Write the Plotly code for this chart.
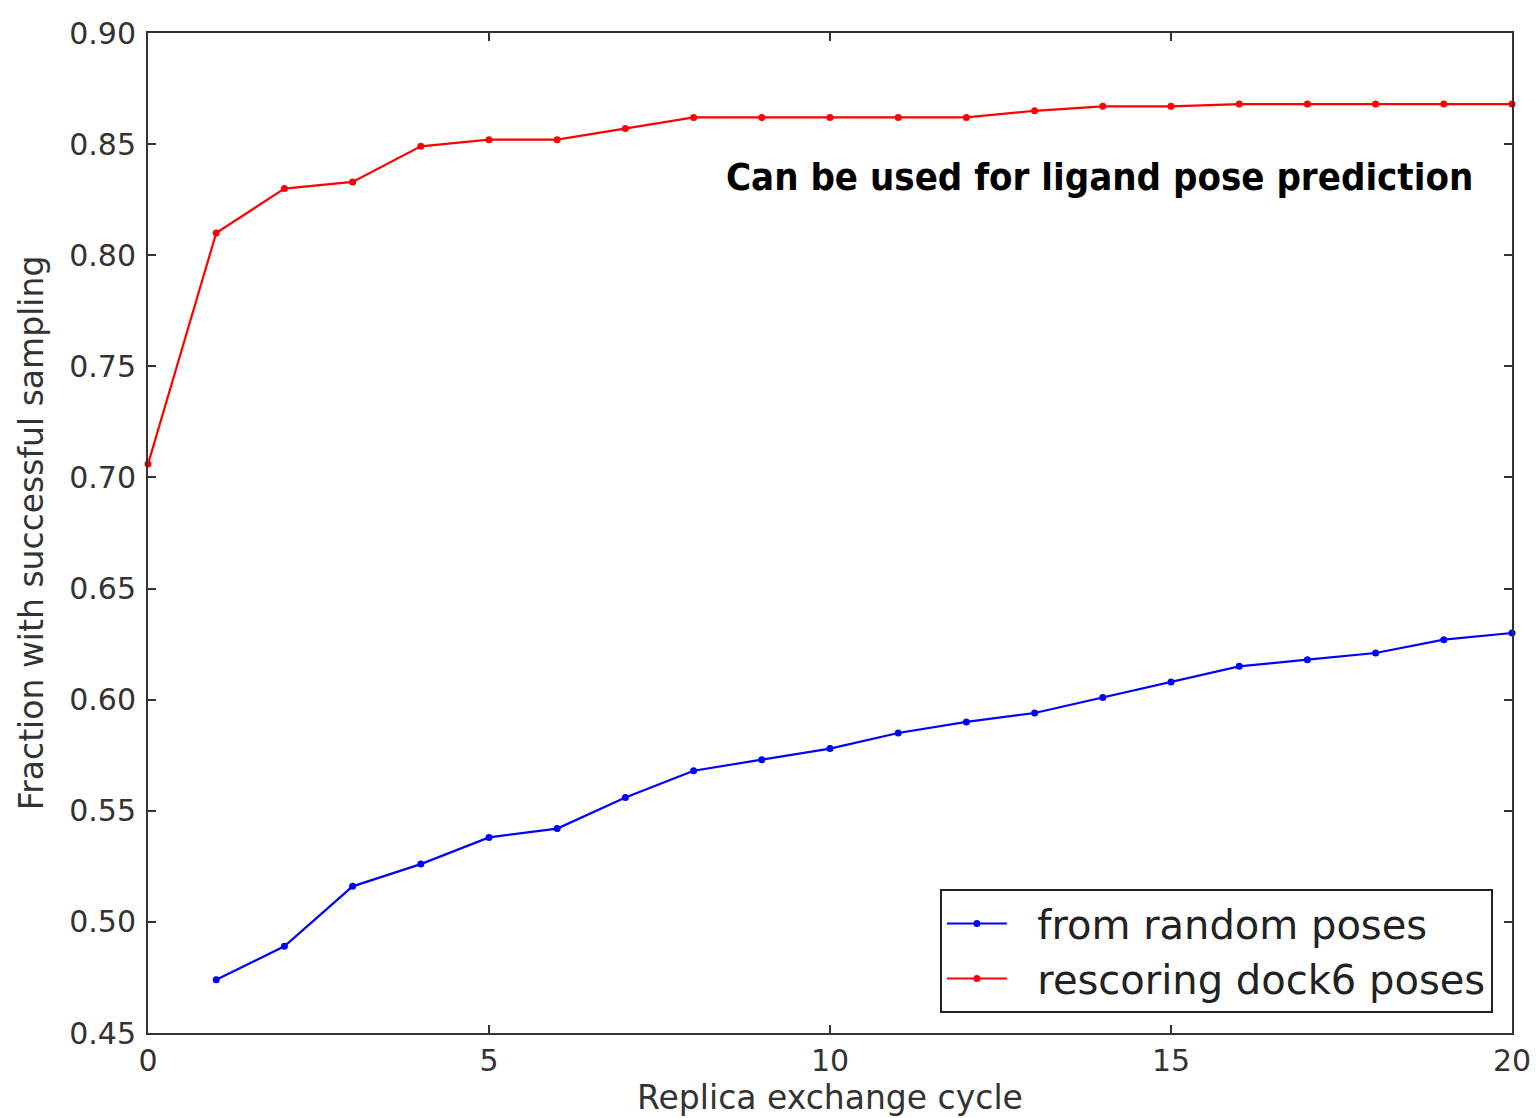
import plotly.graph_objects as go

cycles_red = list(range(0, 21))
rescoring_dock6 = [0.706, 0.810, 0.830, 0.833, 0.849, 0.852, 0.852, 0.857, 0.862, 0.862,
                   0.862, 0.862, 0.862, 0.865, 0.867, 0.867, 0.868, 0.868, 0.868, 0.868, 0.868]
cycles_blue = list(range(1, 21))
from_random = [0.474, 0.489, 0.516, 0.526, 0.538, 0.542, 0.556, 0.568, 0.573, 0.578,
               0.585, 0.590, 0.594, 0.601, 0.608, 0.615, 0.618, 0.621, 0.627, 0.630]

x_ticks = [0, 5, 10, 15, 20]
y_ticks = [0.45, 0.50, 0.55, 0.60, 0.65, 0.70, 0.75, 0.80, 0.85, 0.90]

NB = "\u00a0"
fig = go.Figure()
fig.add_trace(go.Scatter(x=cycles_blue, y=from_random, mode="lines+markers",
                         name=NB * 2 + "from random poses",
                         line=dict(color="#0000ff", width=2.2),
                         marker=dict(color="#0000ff", size=7), cliponaxis=False))
fig.add_trace(go.Scatter(x=cycles_red, y=rescoring_dock6, mode="lines+markers",
                         name=NB * 2 + "rescoring dock6 poses",
                         line=dict(color="#ff0000", width=2.2),
                         marker=dict(color="#ff0000", size=7), cliponaxis=False))

axis_common = dict(showline=True, linecolor="#333", linewidth=2, mirror="ticks",
                   ticks="inside", ticklen=8, tickwidth=1.5, tickcolor="#333",
                   showgrid=False, zeroline=False, automargin=False,
                   ticklabeloverflow="allow")

fig.update_xaxes(range=[0, 20], tickvals=x_ticks, ticktext=[str(v) for v in x_ticks],
                 tickfont=dict(family="DejaVu Sans", size=30, color="#333"),
                 title=dict(text="Replica exchange cycle",
                            font=dict(family="DejaVu Sans", size=33, color="#333"),
                            standoff=6),
                 **axis_common)
fig.update_yaxes(range=[0.45, 0.90], tickvals=y_ticks, ticktext=[f"{v:.2f}" for v in y_ticks],
                 tickfont=dict(family="DejaVu Sans", size=30, color="#333"),
                 ticklabelstandoff=4,
                 title=dict(text="Fraction with successful sampling",
                            font=dict(family="DejaVu Sans", size=33, color="#333"),
                            standoff=16),
                 **axis_common)

fig.add_annotation(x=0.973, y=0.835, xref="paper", yref="y", xanchor="right", yanchor="middle",
                   text="<b>Can be used for ligand pose prediction</b>", showarrow=False,
                   font=dict(family="DejaVu Sans Condensed, Roboto Condensed, Roboto", size=38,
                             color="black"))

fig.update_layout(
    width=1536, height=1118,
    margin=dict(l=148, r=24, t=33, b=85),
    paper_bgcolor="white", plot_bgcolor="white",
    legend=dict(x=0.986, y=0.02, xanchor="right", yanchor="bottom",
                bordercolor="#222", borderwidth=2, bgcolor="white",
                font=dict(family="DejaVu Sans", size=40, color="#222"),
                itemwidth=60, tracegroupgap=0),
    showlegend=True,
)

fig.write_html("out.html")
